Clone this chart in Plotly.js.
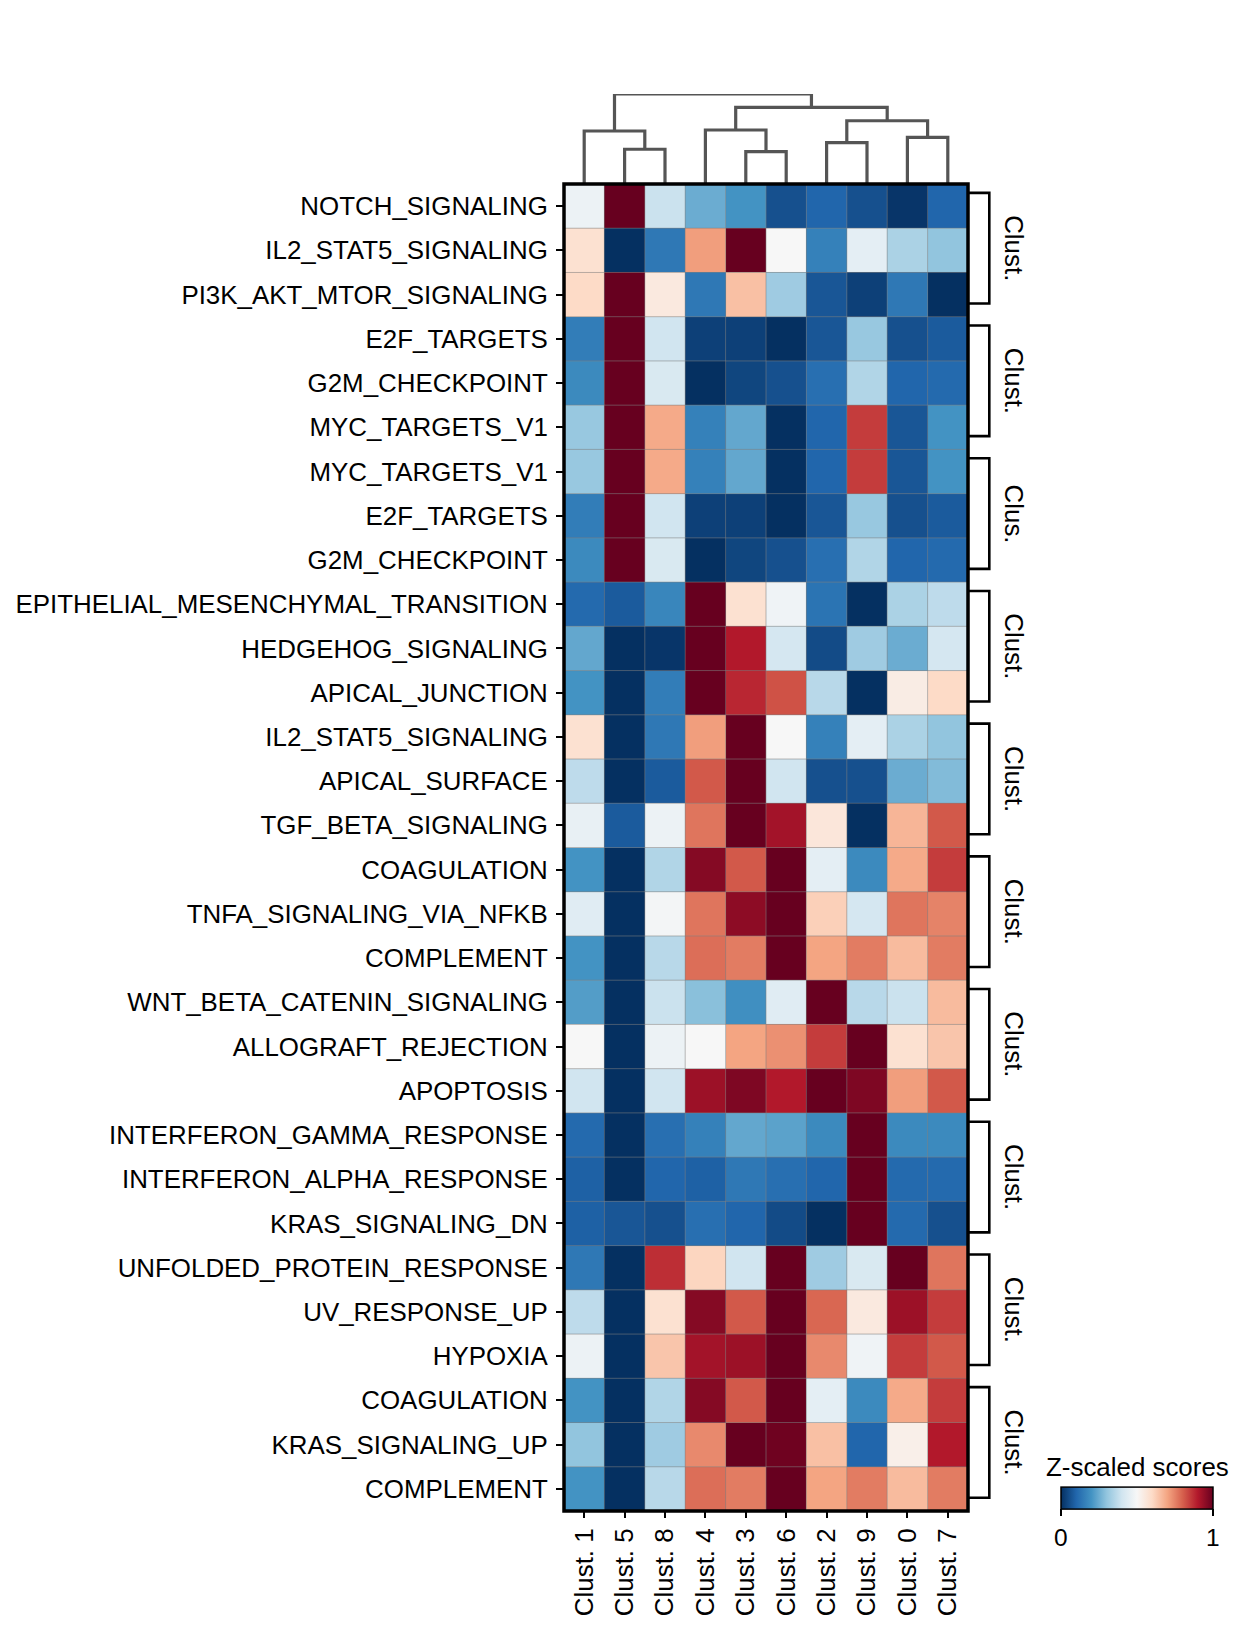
<!DOCTYPE html>
<html>
<head>
<meta charset="utf-8">
<script src="https://cdn.plot.ly/plotly-3.0.1.min.js"></script>
<style>html,body{margin:0;padding:0;background:#fff;}#chart{width:1244px;height:1631px;}</style>
</head>
<body>
<div id="chart"></div>
<script>
// ---- data ----
const clusters = ['Clust. 1','Clust. 5','Clust. 8','Clust. 4','Clust. 3','Clust. 6','Clust. 2','Clust. 9','Clust. 0','Clust. 7'];
const pathways = ['NOTCH_SIGNALING','IL2_STAT5_SIGNALING','PI3K_AKT_MTOR_SIGNALING','E2F_TARGETS','G2M_CHECKPOINT','MYC_TARGETS_V1',
  'MYC_TARGETS_V1','E2F_TARGETS','G2M_CHECKPOINT','EPITHELIAL_MESENCHYMAL_TRANSITION','HEDGEHOG_SIGNALING','APICAL_JUNCTION',
  'IL2_STAT5_SIGNALING','APICAL_SURFACE','TGF_BETA_SIGNALING','COAGULATION','TNFA_SIGNALING_VIA_NFKB','COMPLEMENT',
  'WNT_BETA_CATENIN_SIGNALING','ALLOGRAFT_REJECTION','APOPTOSIS','INTERFERON_GAMMA_RESPONSE','INTERFERON_ALPHA_RESPONSE','KRAS_SIGNALING_DN',
  'UNFOLDED_PROTEIN_RESPONSE','UV_RESPONSE_UP','HYPOXIA','COAGULATION','KRAS_SIGNALING_UP','COMPLEMENT'];
const scores = [
  [0.47, 1.00, 0.39, 0.25, 0.20, 0.06, 0.10, 0.06, 0.01, 0.10],
  [0.58, 0.00, 0.14, 0.71, 1.00, 0.50, 0.16, 0.45, 0.34, 0.30],
  [0.60, 1.00, 0.55, 0.14, 0.65, 0.32, 0.07, 0.03, 0.14, 0.00],
  [0.15, 1.00, 0.40, 0.03, 0.03, 0.00, 0.07, 0.31, 0.06, 0.08],
  [0.18, 1.00, 0.42, 0.00, 0.04, 0.06, 0.12, 0.35, 0.10, 0.11],
  [0.31, 1.00, 0.69, 0.16, 0.24, 0.00, 0.10, 0.85, 0.07, 0.20],
  [0.31, 1.00, 0.69, 0.16, 0.24, 0.00, 0.10, 0.85, 0.07, 0.20],
  [0.15, 1.00, 0.40, 0.03, 0.03, 0.00, 0.07, 0.31, 0.06, 0.08],
  [0.18, 1.00, 0.42, 0.00, 0.04, 0.06, 0.12, 0.35, 0.10, 0.11],
  [0.11, 0.08, 0.17, 1.00, 0.58, 0.48, 0.13, 0.00, 0.34, 0.37],
  [0.24, 0.00, 0.01, 1.00, 0.90, 0.41, 0.05, 0.32, 0.25, 0.41],
  [0.20, 0.00, 0.15, 1.00, 0.88, 0.82, 0.36, 0.00, 0.54, 0.60],
  [0.58, 0.00, 0.14, 0.71, 1.00, 0.50, 0.16, 0.45, 0.34, 0.30],
  [0.37, 0.00, 0.08, 0.81, 1.00, 0.40, 0.06, 0.06, 0.25, 0.28],
  [0.46, 0.08, 0.47, 0.77, 1.00, 0.92, 0.56, 0.00, 0.67, 0.81],
  [0.20, 0.00, 0.35, 0.96, 0.81, 1.00, 0.45, 0.18, 0.69, 0.85],
  [0.44, 0.00, 0.49, 0.77, 0.95, 1.00, 0.62, 0.41, 0.77, 0.75],
  [0.20, 0.00, 0.36, 0.78, 0.76, 1.00, 0.70, 0.76, 0.66, 0.76],
  [0.22, 0.00, 0.39, 0.29, 0.19, 0.44, 1.00, 0.36, 0.39, 0.66],
  [0.50, 0.00, 0.47, 0.50, 0.70, 0.73, 0.85, 1.00, 0.58, 0.64],
  [0.40, 0.00, 0.40, 0.93, 0.97, 0.90, 1.00, 0.97, 0.71, 0.81],
  [0.11, 0.00, 0.12, 0.16, 0.24, 0.23, 0.18, 1.00, 0.18, 0.18],
  [0.09, 0.00, 0.10, 0.09, 0.14, 0.12, 0.10, 1.00, 0.11, 0.11],
  [0.09, 0.07, 0.06, 0.12, 0.10, 0.05, 0.00, 1.00, 0.11, 0.06],
  [0.14, 0.00, 0.87, 0.61, 0.40, 1.00, 0.32, 0.42, 1.00, 0.77],
  [0.37, 0.00, 0.58, 0.96, 0.81, 1.00, 0.79, 0.55, 0.93, 0.85],
  [0.47, 0.00, 0.64, 0.92, 0.93, 1.00, 0.74, 0.48, 0.85, 0.81],
  [0.20, 0.00, 0.35, 0.96, 0.81, 1.00, 0.45, 0.18, 0.69, 0.85],
  [0.30, 0.00, 0.32, 0.74, 1.00, 0.99, 0.65, 0.10, 0.53, 0.90],
  [0.20, 0.00, 0.36, 0.78, 0.76, 1.00, 0.70, 0.76, 0.66, 0.76]
];
const groupLabels = ['Clust.','Clust.','Clus.','Clust.','Clust.','Clust.','Clust.','Clust.','Clust.','Clust.'];
const groupSize = 3;
const colorbarTitle = 'Z-scaled scores';
// dendrogram: merges of nodes (0-9 leaves in column order, 10+ new nodes) and their heights
const mergeLeft   = [1, 0, 4, 3, 6, 8, 14, 13, 11];
const mergeRight  = [2, 10, 5, 12, 7, 9, 15, 16, 17];
const mergeHeight = [0.386, 0.589, 0.359, 0.600, 0.459, 0.519, 0.703, 0.852, 1.0];

// ---- styling ----
const FONT = 'Arial, "Liberation Sans", sans-serif';
const FS = 25.9;
const rdbu_r = [
  [0.0,'#053061'],[0.1,'#2166ac'],[0.2,'#4393c3'],[0.3,'#92c5de'],[0.4,'#d1e5f0'],
  [0.5,'#f7f7f7'],[0.6,'#fddbc7'],[0.7,'#f4a582'],[0.8,'#d6604d'],[0.9,'#b2182b'],[1.0,'#67001f']
];

const W = 1244, H = 1631;
const L = 564, R = 968, T = 94, B = 1511, HT = 184;
const plotW = R - L, plotH = B - T;
const px2paperX = p => (p - L) / plotW;
const px2paperY = p => (B - p) / plotH;
const heatTop = (B - HT) / plotH;

const nCols = clusters.length, nRows = pathways.length;
const xIdx = clusters.map((_, i) => i);
const yIdx = pathways.map((_, i) => i);

// dendrogram lines
const nodeX = xIdx.slice(), nodeY = xIdx.map(() => 0);
const dx = [], dy = [];
for (let k = 0; k < mergeLeft.length; k++) {
  const a = mergeLeft[k], b = mergeRight[k], h = mergeHeight[k];
  dx.push(nodeX[a], nodeX[a], nodeX[b], nodeX[b], null);
  dy.push(nodeY[a], h, h, nodeY[b], null);
  nodeX.push((nodeX[a] + nodeX[b]) / 2);
  nodeY.push(h);
}

const heat = {
  type: 'heatmap', x: xIdx, y: yIdx, z: scores,
  zmin: 0, zmax: 1, colorscale: rdbu_r, xaxis: 'x', yaxis: 'y',
  colorbar: {
    orientation: 'h', thickness: 22, thicknessmode: 'pixels',
    len: 152, lenmode: 'pixels',
    x: px2paperX(1136.7), xanchor: 'center',
    y: -41 / plotH, yanchor: 'bottom', ypad: 0, xpad: 0,
    outlinewidth: 1.5, outlinecolor: 'black',
    tickvals: [0, 1], ticktext: ['0', '1'],
    ticks: 'outside', ticklen: 7, tickwidth: 2, tickcolor: 'black',
    tickfont: {family: FONT, size: 24.5, color: 'black'},
    title: {text: ''}
  }
};
const dendro = {
  type: 'scatter', mode: 'lines', x: dx, y: dy, xaxis: 'x', yaxis: 'y2', cliponaxis: false,
  line: {color: '#555555', width: 3.2}, hoverinfo: 'skip', showlegend: false, connectgaps: false
};

const shapes = [];
// thin cell edges
for (let i = 1; i < nCols; i++) {
  shapes.push({type: 'line', xref: 'x', yref: 'y', x0: i - 0.5, x1: i - 0.5, y0: -0.5, y1: nRows - 0.5,
    line: {color: 'rgba(128,128,128,0.55)', width: 1}, layer: 'above'});
}
for (let j = 1; j < nRows; j++) {
  shapes.push({type: 'line', xref: 'x', yref: 'y', x0: -0.5, x1: nCols - 0.5, y0: j - 0.5, y1: j - 0.5,
    line: {color: 'rgba(128,128,128,0.55)', width: 1}, layer: 'above'});
}
// frame (paper coords so it is not clipped)
shapes.push({type: 'rect', xref: 'paper', yref: 'paper', x0: 0, x1: 1, y0: 0, y1: heatTop,
  line: {color: 'black', width: 3.5}, fillcolor: 'rgba(0,0,0,0)', layer: 'above'});
// group brackets
const annotations = [];
const bx0 = px2paperX(969), bx1 = px2paperX(989.3);
groupLabels.forEach((lab, g) => {
  const top = g * groupSize - 0.3, bot = g * groupSize + groupSize - 1 + 0.2;
  shapes.push({type: 'path', xref: 'paper', yref: 'y',
    path: `M ${bx0},${top} L ${bx1},${top} L ${bx1},${bot} L ${bx0},${bot}`,
    line: {color: 'black', width: 2.6}, fillcolor: 'rgba(0,0,0,0)'});
  annotations.push({xref: 'paper', yref: 'y', x: px2paperX(1014), y: g * groupSize + (groupSize - 1) / 2 - 0.05,
    text: lab, showarrow: false, textangle: 90, xanchor: 'center', yanchor: 'middle',
    font: {family: FONT, size: FS, color: 'black'}});
});
// colorbar title
annotations.push({xref: 'paper', yref: 'paper', x: px2paperX(1137), y: px2paperY(1467),
  text: colorbarTitle, showarrow: false, xanchor: 'center', yanchor: 'middle',
  font: {family: FONT, size: FS, color: 'black'}});

const layout = {
  width: W, height: H,
  margin: {l: L, r: W - R, t: T, b: H - B, autoexpand: false},
  paper_bgcolor: 'white', plot_bgcolor: 'white',
  font: {family: FONT, size: FS, color: 'black'},
  showlegend: false,
  xaxis: {
    range: [-0.5, nCols - 0.5], tickmode: 'array', tickvals: xIdx, ticktext: clusters,
    tickangle: -90, ticks: 'outside', ticklen: 6, tickwidth: 2, tickcolor: 'black',
    showgrid: false, zeroline: false, showline: false, anchor: 'y', fixedrange: true,
    tickfont: {family: FONT, size: FS, color: 'black'}
  },
  yaxis: {
    domain: [0, heatTop], range: [nRows - 0.5, -0.5],
    tickmode: 'array', tickvals: yIdx, ticktext: pathways,
    ticks: 'outside', ticklen: 7, tickwidth: 2, tickcolor: 'black', ticklabelstandoff: 3,
    showgrid: false, zeroline: false, showline: false, fixedrange: true,
    tickfont: {family: FONT, size: FS, color: 'black'}
  },
  yaxis2: {
    domain: [heatTop, 1], range: [0, 1], anchor: 'x',
    showticklabels: false, ticks: '', showgrid: false, zeroline: false, showline: false, fixedrange: true
  },
  shapes: shapes,
  annotations: annotations
};

Plotly.newPlot('chart', [heat, dendro], layout, {displayModeBar: false, staticPlot: true});
</script>
</body>
</html>
